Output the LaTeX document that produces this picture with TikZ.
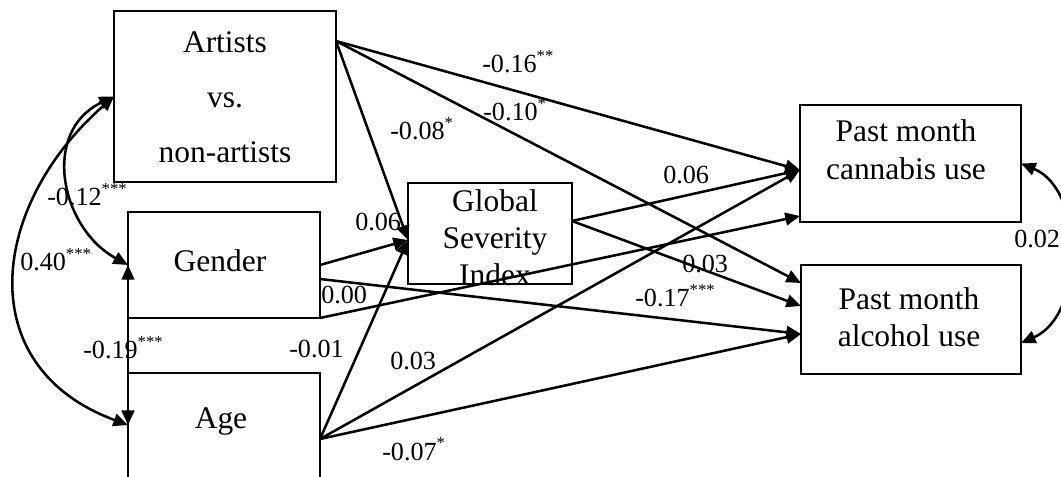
\documentclass[tikz,border=0pt]{standalone}
\usepackage{fontspec}
\setmainfont{Liberation Serif}
\usetikzlibrary{arrows.meta,calc}
\newcommand{\sg}[1]{\raisebox{8.8pt}{\fontsize{12.5}{12.5}\selectfont #1}}
\begin{document}
\begin{tikzpicture}[x=0.75pt,y=-0.75pt,
  box/.style={draw, line width=1.5pt, inner sep=0pt, outer sep=0pt},
  boxtext/.style={inner sep=0pt, align=center},
  arr/.style={-{Triangle[length=11pt,width=9.5pt]}, line width=1.9pt},
  biarr/.style={{Triangle[length=11pt,width=9.5pt]}-{Triangle[length=11pt,width=9.5pt]}, line width=1.9pt},
  lab/.style={inner sep=0pt, anchor=base west, font=\fontsize{19.6}{20}\selectfont}
]
\useasboundingbox (0,0) rectangle (1061,477);
\clip (0,0) rectangle (1061,477);

% boxes
\node[box, minimum width=222*0.75pt, minimum height=171*0.75pt] (art) at (225,96.5) {};
\node[box, minimum width=192*0.75pt, minimum height=106*0.75pt] (gen) at (224,265) {};
\node[box, minimum width=192*0.75pt, minimum height=157*0.75pt] (age) at (224,451.5) {};
\node[box, minimum width=164*0.75pt, minimum height=101*0.75pt] (gsi) at (490,233.5) {};
\node[box, minimum width=221*0.75pt, minimum height=117*0.75pt] (can) at (910.5,163.5) {};
\node[box, minimum width=220*0.75pt, minimum height=109*0.75pt] (alc) at (911,319.5) {};

% box texts
\node[boxtext, font=\fontsize{23.6}{41.6}\selectfont] (artT) at (225,96.4)
  {\strut Artists\\\strut vs.\\\strut non-artists};
\node[inner sep=0pt, anchor=base, font=\fontsize{23.6}{28}\selectfont] (genT) at (220,272) {Gender};
\node[inner sep=0pt, anchor=base, font=\fontsize{23.6}{28}\selectfont] (ageT) at (221,429) {Age};
\node[boxtext, font=\fontsize{23.6}{27.4}\selectfont] (gsiT) at (495,241.2)
  {\strut Global\\\strut Severity\\\strut Index};
\node[boxtext, font=\fontsize{23.6}{28.5}\selectfont] (canT) at (906,153.4)
  {\strut Past month\\\strut cannabis use};
\node[boxtext, font=\fontsize{23.6}{27.75}\selectfont] (alcT) at (909,321.1)
  {\strut Past month\\\strut alcohol use};

% ports
\coordinate (artOut) at ($(art.north east)+(0,30)$);
\coordinate (gsiIn) at ($(gsi.west)+(0,6.5)$);
\coordinate (gsiOut) at ($(gsi.east)+(0,-12.5)$);
\coordinate (genOut2) at ($(gen.east)+(0,14)$);
\coordinate (ageCov) at ($(age.north west)+(0,52)$);
\coordinate (ageOut) at ($(age.north east)+(0,66)$);
\coordinate (canIn1) at ($(can.west)+(0,6.5)$);
\coordinate (canIn2) at ($(can.south west)+(0,-6)$);
\coordinate (alcIn1) at ($(alc.north west)+(0,18)$);
\coordinate (alcIn2) at ($(alc.north west)+(0,41)$);
\coordinate (alcIn3) at ($(alc.north west)+(0,69)$);
\coordinate (alcR) at ($(alc.east)+(0,23.5)$);

% paths
\draw[arr] (artOut) -- (canIn1);
\draw[arr] (artOut) -- (alcIn1);
\draw[arr] (artOut) -- (gsiIn);
\draw[arr] (gen.east) -- (gsiIn);
\draw[arr] (gen.south east) -- (canIn2);
\draw[arr] (genOut2) -- (alcIn3);
\draw[arr] (ageOut) -- (gsiIn);
\draw[arr] (ageOut) -- (canIn1);
\draw[arr] (ageOut) -- (alcIn3);
\draw[arr] (gsiOut) -- (canIn1);
\draw[arr] (gsiOut) -- (alcIn2);

% covariances
\draw[biarr] (art.west) .. controls (40.6,131.7) and (60.7,228) .. (gen.west);
\draw[biarr] (art.west) .. controls (-10.6,206) and (-29.4,366.8) .. (ageCov);
\draw[biarr] (gen.west) -- (ageCov);
\draw[biarr] (can.east) .. controls (1085,190) and (1085,315) .. (alcR);

% labels
\node[lab] (l1) at (482,73) {-0.16\sg{**}};
\node[lab] (l2) at (483,121) {-0.10\sg{*}};
\node[lab] (l3) at (390,140) {-0.08\sg{*}};
\node[lab] (l4) at (663,184) {0.06};
\node[lab] (l5) at (355,231) {0.06};
\node[lab] (l6) at (321,304) {0.00};
\node[lab] (l7) at (289,358) {-0.01};
\node[lab] (l8) at (390,370) {0.03};
\node[lab] (l9) at (382,460) {-0.07\sg{*}};
\node[lab] (l10) at (682,273) {0.03};
\node[lab] (l11) at (635,307) {-0.17\sg{***}};
\node[lab] (l12) at (47,206) {-0.12\sg{***}};
\node[lab] (l13) at (20,271) {0.40\sg{***}};
\node[lab] (l14) at (83,359) {-0.19\sg{***}};
\node[lab] (l15) at (1014,248) {0.02};
\end{tikzpicture}
\end{document}
